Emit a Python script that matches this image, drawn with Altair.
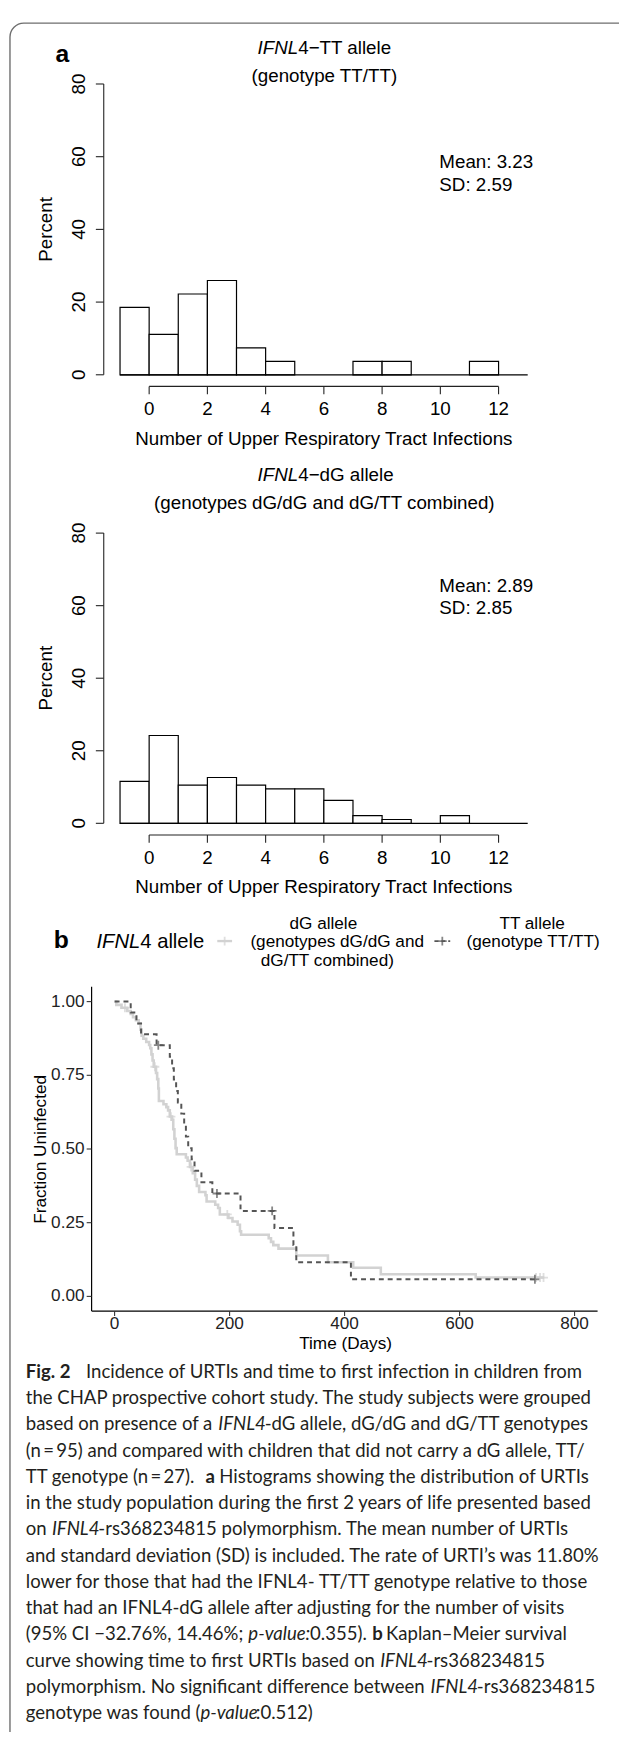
import altair as alt
import pandas as pd

OFF = 8  # page margin (chart origin sits at page pixel 8,8)

# ---------------- data ----------------
# Panel a: histograms, percent of children per URTI-count bin [start, start+1)
bin_start = [-1, 0, 1, 2, 3, 4, 5, 6, 7, 8, 9, 10, 11, 12]
tt_percent = [18.52, 11.11, 22.22, 25.93, 7.41, 3.70, 0, 0, 3.70, 3.70, 0, 0, 3.70, 0]
dg_percent = [11.58, 24.21, 10.53, 12.63, 10.53, 9.47, 9.47, 6.32, 2.11, 1.05, 0, 2.11, 0, 0]
hist_x_ticks = [0, 2, 4, 6, 8, 10, 12]
hist_y_ticks = [0, 20, 40, 60, 80]

# Panel b: Kaplan-Meier step curves
tt_days = [0, 28, 38, 46, 73, 96, 100, 103, 107, 110, 116, 121, 124, 128, 134, 139, 151, 170,
           219, 278, 311, 316, 411, 731]
tt_surv = [1.0, 0.963, 0.926, 0.889, 0.852, 0.813, 0.774, 0.736, 0.697, 0.658, 0.620, 0.581,
           0.542, 0.503, 0.465, 0.426, 0.387, 0.349, 0.290, 0.232, 0.174, 0.116, 0.058, 0.058]
tt_cens_days = [76, 178, 274, 731]
tt_cens_surv = [0.852, 0.349, 0.290, 0.058]

dg_days = [0, 3, 12, 22, 28, 32, 37, 42, 45, 47, 50, 55, 60, 62, 64, 66, 68, 72, 74, 76, 77,
           85, 90, 93, 96, 100, 102, 104, 106, 108, 124, 127, 131, 136, 140, 143, 147, 158,
           160, 175, 180, 183, 198, 205, 214, 218, 220, 268, 272, 276, 285, 316, 371, 415,
           463, 628, 747]
dg_surv = [1.0, 0.989, 0.979, 0.968, 0.958, 0.947, 0.937, 0.926, 0.905, 0.884, 0.874, 0.863,
           0.853, 0.842, 0.821, 0.800, 0.779, 0.758, 0.737, 0.705, 0.663, 0.652, 0.642, 0.631,
           0.610, 0.599, 0.567, 0.535, 0.503, 0.482, 0.471, 0.460, 0.439, 0.418, 0.396, 0.375,
           0.354, 0.343, 0.322, 0.311, 0.300, 0.278, 0.266, 0.254, 0.243, 0.221, 0.209, 0.197,
           0.185, 0.174, 0.162, 0.139, 0.116, 0.097, 0.075, 0.064, 0.064]
dg_cens_days = [18, 70, 98, 133, 196, 733, 740, 746]
dg_cens_surv = [0.979, 0.779, 0.610, 0.439, 0.278, 0.064, 0.064, 0.064]

km_x_ticks = [0, 200, 400, 600, 800]
km_y_ticks = [0.0, 0.25, 0.5, 0.75, 1.0]
km_y_labels = ["0.00", "0.25", "0.50", "0.75", "1.00"]

caption_lines = [
    [("Fig. 2", "bold", 26), ("Incidence of URTIs and time to first infection in children from", "normal", 87)],
    [("the CHAP prospective cohort study. The study subjects were grouped", "normal", 26)],
    [("based on presence of a", "normal", 26), ("IFNL4", "italic", 221),
     ("-dG allele, dG/dG and dG/TT genotypes", "normal", 268)],
    [("(n\u2009=\u200995) and compared with children that did not carry a dG allele, TT/", "normal", 26)],
    [("TT genotype (n\u2009=\u200927).", "normal", 26), ("a", "bold", 208),
     ("Histograms showing the distribution of URTIs", "normal", 222)],
    [("in the study population during the first 2 years of life presented based", "normal", 26)],
    [("on", "normal", 26), ("IFNL4", "italic", 52.5), ("-rs368234815 polymorphism. The mean number of URTIs", "normal", 99.5)],
    [("and standard deviation (SD) is included. The rate of URTI\u2019s was 11.80%", "normal", 26)],
    [("lower for those that had the IFNL4- TT/TT genotype relative to those", "normal", 26)],
    [("that had an IFNL4-dG allele after adjusting for the number of visits", "normal", 26)],
    [("(95% CI \u221232.76%, 14.46%;", "normal", 26), ("p-value:", "italic", 251.5),
     ("0.355).", "normal", 314), ("b", "bold", 377), ("Kaplan\u2013Meier survival", "normal", 391)],
    [("curve showing time to first URTIs based on", "normal", 26), ("IFNL4", "italic", 385),
     ("-rs368234815", "normal", 432)],
    [("polymorphism. No significant difference between", "normal", 26), ("IFNL4", "italic", 436),
     ("-rs368234815", "normal", 483)],
    [("genotype was found (", "normal", 26), ("p-value", "italic", 203), (":0.512)", "normal", 259)],
]

RF = "Liberation Sans, Arial, Helvetica, sans-serif"
CF = "Lato, Open Sans, sans-serif"
HS = 19  # histogram font size
KS = 17.4  # KM font size
PAGE_W = 627


def one():
    return pd.DataFrame({"k": [0]})


def label(text, x, y, size=HS, font=RF, angle=0, align="center", style="normal",
          weight="normal", color="black"):
    kw = dict(text=text, fontSize=size, font=font, align=align, baseline="middle",
              fontStyle=style, fontWeight=weight, color=color)
    if angle:
        kw["angle"] = angle
    return alt.Chart(one()).mark_text(**kw).encode(
        x=alt.value(x - OFF), y=alt.value(y - OFF))


def hist_panel(pct, y0, y80, title_rest, subtitle, t1y, t2y, mean_txt, sd_txt, my, sy):
    xs = alt.Scale(domain=[-1, 13], range=[121.5 - OFF, 534.5 - OFF], nice=False, zero=False)
    ys = alt.Scale(domain=[0, 80], range=[y0 - OFF, y80 - OFF], nice=False, zero=False)
    xaxis_y = y0 + 0.04 * (y0 - y80)
    yaxis_x = 105
    df = pd.DataFrame({"x0": bin_start, "x1": [b + 1 for b in bin_start], "pct": pct})
    df = df[df.pct > 0].copy()
    df["base"] = 0
    bars = alt.Chart(df).mark_rect(fill="white", stroke="black", strokeWidth=1.2).encode(
        x=alt.X("x0:Q", scale=xs, axis=None), x2="x1:Q",
        y=alt.Y("base:Q", scale=ys, axis=None), y2="pct:Q")
    baseline = alt.Chart(pd.DataFrame({"a": [-1], "b": [13], "z": [0]})).mark_rule(
        color="black", strokeWidth=1.2).encode(
        x=alt.X("a:Q", scale=xs, axis=None), x2="b:Q", y=alt.Y("z:Q", scale=ys, axis=None))
    yt = pd.DataFrame({"t": hist_y_ticks, "lab": [str(v) for v in hist_y_ticks]})
    yline = alt.Chart(pd.DataFrame({"lo": [0], "hi": [80]})).mark_rule(
        color="#222", strokeWidth=1.1).encode(
        x=alt.value(yaxis_x - OFF), y=alt.Y("lo:Q", scale=ys, axis=None), y2="hi:Q")
    yticks = alt.Chart(yt).mark_rule(color="#222", strokeWidth=1.1).encode(
        x=alt.value(yaxis_x - 8 - OFF), x2=alt.value(yaxis_x - OFF),
        y=alt.Y("t:Q", scale=ys, axis=None))
    ylabs = alt.Chart(yt).mark_text(fontSize=HS, font=RF, angle=270, align="center",
                                    baseline="middle", color="black").encode(
        x=alt.value(80 - OFF), y=alt.Y("t:Q", scale=ys, axis=None), text="lab:N")
    xt = pd.DataFrame({"t": hist_x_ticks, "lab": [str(v) for v in hist_x_ticks]})
    xline = alt.Chart(pd.DataFrame({"lo": [0], "hi": [12]})).mark_rule(
        color="#222", strokeWidth=1.1).encode(
        x=alt.X("lo:Q", scale=xs, axis=None), x2="hi:Q", y=alt.value(xaxis_y - OFF))
    xticks = alt.Chart(xt).mark_rule(color="#222", strokeWidth=1.1).encode(
        x=alt.X("t:Q", scale=xs, axis=None),
        y=alt.value(xaxis_y - OFF), y2=alt.value(xaxis_y + 8 - OFF))
    xlabs = alt.Chart(xt).mark_text(fontSize=HS, font=RF, align="center", baseline="middle",
                                    color="black").encode(
        x=alt.X("t:Q", scale=xs, axis=None), y=alt.value(xaxis_y + 23 - OFF), text="lab:N")
    texts = [
        label("Number of Upper Respiratory Tract Infections", 328, xaxis_y + 53),
        label("Percent", 47, (y0 + y80) / 2, angle=270),
        label("IFNL", 302, t1y, align="right", style="italic"),
        label(title_rest, 302, t1y, align="left"),
        label(subtitle, 328.5, t2y),
        label(mean_txt, 445, my, align="left"),
        label(sd_txt, 445, sy, align="left"),
    ]
    return alt.layer(bars, baseline, yline, yticks, ylabs, xline, xticks, xlabs, *texts)


hist1 = hist_panel(tt_percent, 368.3, 73.7, "4\u2212TT allele", "(genotype TT/TT)",
                   37.7, 65.7, "Mean: 3.23", "SD: 2.59", 153, 176)
hist2 = hist_panel(dg_percent, 822.7, 528.7, "4\u2212dG allele",
                   "(genotypes dG/dG and dG/TT combined)",
                   470, 498, "Mean: 2.89", "SD: 2.85", 582, 605)

# ---------------- KM panel ----------------
kxs = alt.Scale(domain=[-40, 840], range=[92.7 - OFF, 605.3 - OFF], nice=False, zero=False)
kys = alt.Scale(domain=[-0.05, 1.05], range=[1316.9 - OFF, 988.4 - OFF], nice=False, zero=False)
LIGHT = "#d2d2d2"
DARK = "#555555"
PLUS = "M-1,0L1,0M0,-1L0,1"

dg_df = pd.DataFrame({"day": dg_days, "surv": dg_surv})
tt_df = pd.DataFrame({"day": tt_days, "surv": tt_surv})
dg_line = alt.Chart(dg_df).mark_line(interpolate="step-after", color=LIGHT, strokeWidth=2.6).encode(
    x=alt.X("day:Q", scale=kxs, axis=None), y=alt.Y("surv:Q", scale=kys, axis=None))
tt_line = alt.Chart(tt_df).mark_line(interpolate="step-after", color=DARK, strokeWidth=2,
                                     strokeDash=[5, 4]).encode(
    x=alt.X("day:Q", scale=kxs, axis=None), y=alt.Y("surv:Q", scale=kys, axis=None))
dg_cens = alt.Chart(pd.DataFrame({"day": dg_cens_days, "surv": dg_cens_surv})).mark_point(
    shape=PLUS, size=81, color=LIGHT, strokeWidth=1.8).encode(
    x=alt.X("day:Q", scale=kxs, axis=None), y=alt.Y("surv:Q", scale=kys, axis=None))
tt_cens = alt.Chart(pd.DataFrame({"day": tt_cens_days, "surv": tt_cens_surv})).mark_point(
    shape=PLUS, size=81, color=DARK, strokeWidth=1.8).encode(
    x=alt.X("day:Q", scale=kxs, axis=None), y=alt.Y("surv:Q", scale=kys, axis=None))

kyt = pd.DataFrame({"t": km_y_ticks, "lab": km_y_labels})
kxt = pd.DataFrame({"t": km_x_ticks, "lab": [str(v) for v in km_x_ticks]})
k_yline = alt.Chart(pd.DataFrame({"lo": [-0.05], "hi": [1.05]})).mark_rule(
    color="black", strokeWidth=1.2).encode(
    x=alt.value(92.7 - OFF), y=alt.Y("lo:Q", scale=kys, axis=None), y2="hi:Q")
k_xline = alt.Chart(pd.DataFrame({"lo": [-40], "hi": [840]})).mark_rule(
    color="black", strokeWidth=1.2).encode(
    x=alt.X("lo:Q", scale=kxs, axis=None), x2="hi:Q", y=alt.value(1316.9 - OFF))
k_yticks = alt.Chart(kyt).mark_rule(color="#333", strokeWidth=1.1).encode(
    x=alt.value(87.7 - OFF), x2=alt.value(92.7 - OFF), y=alt.Y("t:Q", scale=kys, axis=None))
k_xticks = alt.Chart(kxt).mark_rule(color="#333", strokeWidth=1.1).encode(
    x=alt.X("t:Q", scale=kxs, axis=None), y=alt.value(1316.9 - OFF), y2=alt.value(1321.9 - OFF))
k_ylabs = alt.Chart(kyt).mark_text(fontSize=KS, font=RF, align="right", baseline="middle",
                                   color="#222").encode(
    x=alt.value(85.5 - OFF), y=alt.Y("t:Q", scale=kys, axis=None), text="lab:N")
k_xlabs = alt.Chart(kxt).mark_text(fontSize=KS, font=RF, align="center", baseline="middle",
                                   color="#222").encode(
    x=alt.X("t:Q", scale=kxs, axis=None), y=alt.value(1330.5 - OFF), text="lab:N")


def key_rule(x1, x2, y, color, dash=None, width=2.2):
    kw = dict(color=color, strokeWidth=width)
    if dash:
        kw["strokeDash"] = dash
    return alt.Chart(one()).mark_rule(**kw).encode(
        x=alt.value(x1 - OFF), x2=alt.value(x2 - OFF), y=alt.value(y - OFF))


def key_plus(x, y, color):
    return alt.Chart(one()).mark_point(shape=PLUS, size=81, color=color, strokeWidth=1.8).encode(
        x=alt.value(x - OFF), y=alt.value(y - OFF))


km_texts = [
    label("Time (Days)", 350, 1350, size=KS),
    label("Fraction Uninfected", 42, 1153, size=KS, angle=270),
    label("b", 62, 941.5, size=25, weight="bold"),
    label("IFNL", 142, 943, size=20.5, align="right", style="italic"),
    label("4 allele", 142, 943, size=20.5, align="left"),
    label("dG allele", 327.5, 925, size=KS),
    label("(genotypes dG/dG and", 341.5, 943, size=KS),
    label("dG/TT combined)", 331.5, 962, size=KS),
    label("TT allele", 539, 925, size=KS),
    label("(genotype TT/TT)", 540, 943.5, size=KS),
    key_rule(220, 235, 942, LIGHT, width=2.4),
    key_plus(227.5, 942, LIGHT),
    key_rule(440, 456, 942, DARK, dash=[4, 3], width=1.8),
    key_plus(448, 942, DARK),
]

km = alt.layer(dg_line, tt_line, dg_cens, tt_cens, k_yline, k_xline, k_yticks, k_xticks,
               k_ylabs, k_xlabs, *km_texts)

# ---------------- caption ----------------
rows = []
for i, line in enumerate(caption_lines):
    y = 1378.5 + i * 26.6
    for text, style, x in line:
        rows.append({"text": text, "style": style, "x": x - OFF, "y": y - OFF})
cap_df = pd.DataFrame(rows)
CS = 18.8
cap_layers = []
for style, fs, fw in [("normal", "normal", "normal"), ("italic", "italic", "normal"),
                      ("bold", "normal", "bold")]:
    cap_layers.append(
        alt.Chart(cap_df[cap_df["style"] == style]).mark_text(
            fontSize=CS, font=CF, align="left", baseline="middle", fontStyle=fs,
            fontWeight=fw, color="#231f20").encode(
            x=alt.X("x:Q", scale=None, axis=None), y=alt.Y("y:Q", scale=None, axis=None),
            text="text:N"))
caption = alt.layer(*cap_layers)

# ---------------- frame & panel letter ----------------
frame = alt.Chart(one()).mark_rect(fill="transparent", stroke="#6e6e6e", strokeWidth=1.4,
                                   cornerRadius=14).encode(
    x=alt.value(10 - OFF), x2=alt.value(PAGE_W + 40), y=alt.value(12 - OFF), y2=alt.value(1800))
letter_a = label("a", 63, 43, size=25, weight="bold")

chart = alt.layer(frame, letter_a, hist1, hist2, km, caption).resolve_scale(
    x="independent", y="independent"
).properties(
    width=PAGE_W - OFF, height=1740 - 2 * OFF, padding=0,
    autosize=alt.AutoSizeParams(type="none"),
    background="white",
).configure_view(strokeWidth=0)

chart.save("out.html", embed_options={"renderer": "svg", "actions": False})
